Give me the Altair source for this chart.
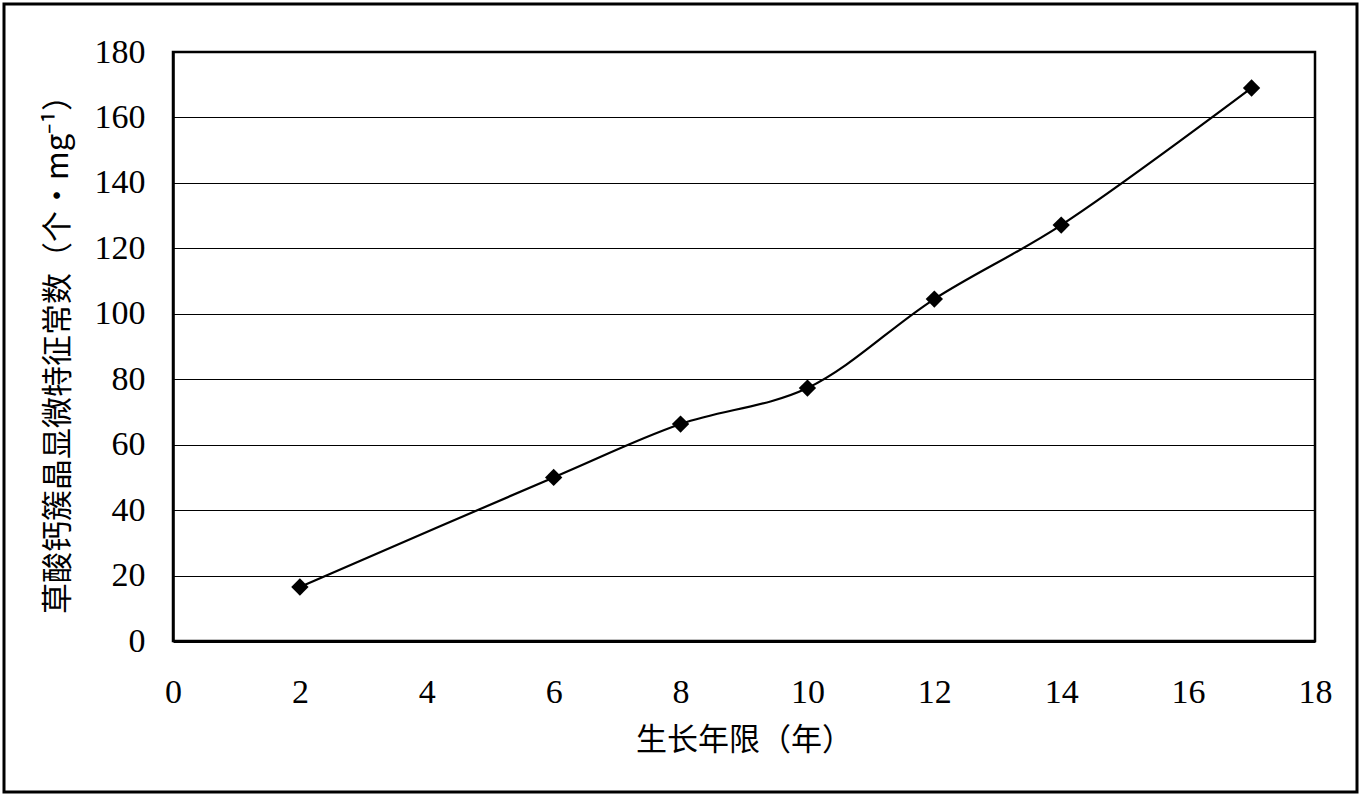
import altair as alt
import pandas as pd

years = [2, 6, 8, 10, 12, 14, 17]
values = [16.5, 50.0, 66.3, 77.3, 104.5, 127.1, 169.0]
x_ticks = [0, 2, 4, 6, 8, 10, 12, 14, 16, 18]
y_ticks = [0, 20, 40, 60, 80, 100, 120, 140, 160, 180]

x_title = "生长年限（年）"
y_title = "草酸钙簇晶显微特征常数（个·mg⁻¹）"

df = pd.DataFrame({"year": years, "value": values})

label_font = "Liberation Serif"
title_font = "Noto Sans CJK SC"

x_enc = alt.X(
    "year:Q",
    scale=alt.Scale(domain=[0, 18], nice=False, zero=True),
    axis=alt.Axis(
        values=x_ticks, title=x_title, grid=False, ticks=False, format="d",
        labelFont=label_font, labelFontSize=34, labelColor="black",
        labelPadding=34, titleFont=title_font, titleFontSize=31,
        titleFontWeight="normal", titleColor="black", titlePadding=16,
        domainColor="black", domainWidth=3, labelFlush=False,
    ),
)
y_enc = alt.Y(
    "value:Q",
    scale=alt.Scale(domain=[0, 180], nice=False),
    axis=alt.Axis(
        values=y_ticks, title=y_title, grid=True, gridColor="black",
        gridWidth=1, gridOpacity=1, ticks=False, format="d",
        labelFont=label_font, labelFontSize=34, labelColor="black",
        labelPadding=28, titleFont=title_font, titleFontSize=31,
        titleFontWeight="normal", titleColor="black", titlePadding=20,
        domainColor="black", domainWidth=2.5, labelFlush=False,
    ),
)

line = alt.Chart(df).mark_line(
    color="black", strokeWidth=2.2, interpolate="catmull-rom"
).encode(x=x_enc, y=y_enc)

points = alt.Chart(df).mark_point(
    shape="diamond", filled=True, color="black", size=300, opacity=1
).encode(x="year:Q", y="value:Q")

frame = alt.Chart(pd.DataFrame({"a": [0]})).mark_rect(
    filled=False, stroke="black", strokeWidth=3, fillOpacity=0
).encode(
    x=alt.value(-169), x2=alt.value(1184),
    y=alt.value(-48), y2=alt.value(740),
)

chart = alt.layer(line, points, frame).properties(
    width=1142, height=589,
    autosize=alt.AutoSizeParams(type="none"),
    padding={"left": 173, "top": 52, "right": 47, "bottom": 155},
    background="white",
).configure_view(
    stroke="black", strokeWidth=2.5
)

chart.save("out.html", embed_options={"renderer": "svg", "actions": False})
